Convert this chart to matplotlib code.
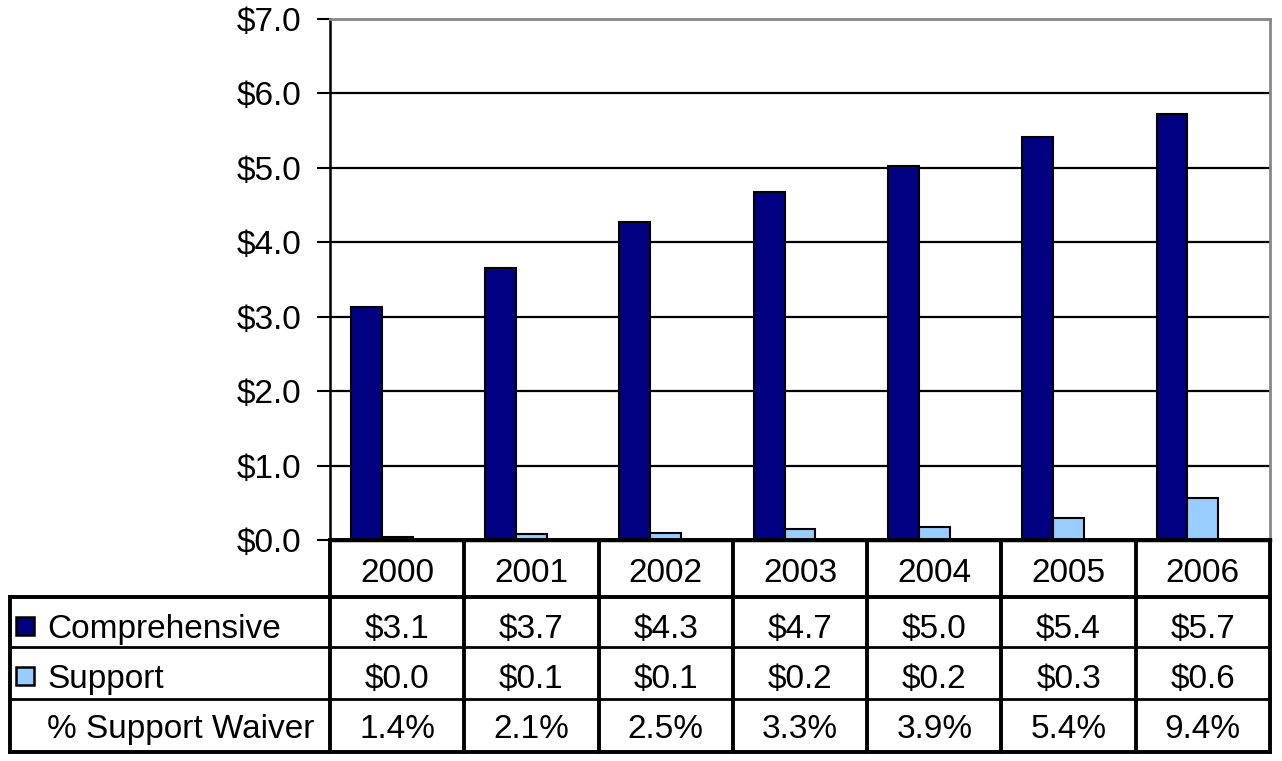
import matplotlib
matplotlib.use("Agg")
import matplotlib.pyplot as plt
import numpy as np

plt.rcParams['font.family'] = ['Liberation Sans', 'DejaVu Sans']

years = ["2000", "2001", "2002", "2003", "2004", "2005", "2006"]
comprehensive = [3.13, 3.65, 4.27, 4.68, 5.03, 5.42, 5.72]
support = [0.045, 0.077, 0.10, 0.15, 0.17, 0.30, 0.57]
comp_labels = ["$3.1", "$3.7", "$4.3", "$4.7", "$5.0", "$5.4", "$5.7"]
support_labels = ["$0.0", "$0.1", "$0.1", "$0.2", "$0.2", "$0.3", "$0.6"]
waiver_pct = ["1.4%", "2.1%", "2.5%", "3.3%", "3.9%", "5.4%", "9.4%"]
series_names = ["Comprehensive", "Support", "% Support Waiver"]
yticks = [0, 1, 2, 3, 4, 5, 6, 7]

COMP_C = "#000080"
SUP_C = "#99CCFF"
FS = 24

W, H = 1282, 761
fig = plt.figure(figsize=(W / 100, H / 100), dpi=100)

# plot area in pixels
L, R, T, B = 330, 1270, 19, 540
ax = fig.add_axes([L / W, (H - B) / H, (R - L) / W, (B - T) / H])
x = np.arange(len(years))
bw = 0.23
ax.bar(x - bw, comprehensive, width=bw, color=COMP_C, edgecolor="black", linewidth=1.5, zorder=3)
ax.bar(x, support, width=bw, color=SUP_C, edgecolor="black", linewidth=1.5, zorder=3)
ax.set_xlim(-0.5, len(years) - 0.5)
ax.set_ylim(0, 7)
ax.set_yticks(yticks)
ax.set_yticklabels([f"${v:.1f}" for v in yticks], fontsize=FS)
for lab in ax.get_yticklabels():
    lab.set_y(lab.get_position()[1])
ax.set_xticks([])
ax.yaxis.grid(True, color="black", linewidth=1.6, zorder=0)
ax.tick_params(axis="y", length=9.5, width=1.5, pad=11, direction="out")
ax.spines["left"].set_linewidth(1.8)
ax.spines["bottom"].set_linewidth(2.5)
ax.spines["top"].set_color("#888888")
ax.spines["top"].set_linewidth(2)
ax.spines["right"].set_color("#888888")
ax.spines["right"].set_linewidth(2)
ax.set_axisbelow(True)

# data table
TL, TB = 10, 753
tax = fig.add_axes([TL / W, (H - TB) / H, (R - TL) / W, (TB - B) / H])
colw = (R - L) / len(years)
xl = -0.5 - (L - TL) / colw
tax.set_xlim(xl, len(years) - 0.5)
tax.set_ylim(TB, B)
tax.axis("off")
rows = [540, 597, 647, 699, 752]
lw_out = 2.8
lw_in = 2.0
tax.plot([-0.5, len(years) - 0.5], [rows[0], rows[0]], color="black", lw=lw_out, clip_on=False)
for k, r in enumerate(rows[1:]):
    lw = lw_out if k in (0, 3) else lw_in
    tax.plot([xl, len(years) - 0.5], [r, r], color="black", lw=lw, clip_on=False, solid_capstyle="projecting")
for i in range(len(years) + 1):
    tax.plot([i - 0.5, i - 0.5], [rows[0], rows[-1]], color="black", lw=lw_out, clip_on=False)
tax.plot([xl, xl], [rows[1], rows[-1]], color="black", lw=lw_out, clip_on=False)

baselines = [582, 638, 688, 738]
for i, yr in enumerate(years):
    tax.text(i, baselines[0], yr, ha="center", va="baseline", fontsize=FS)
    tax.text(i, baselines[1], comp_labels[i], ha="center", va="baseline", fontsize=FS)
    tax.text(i, baselines[2], support_labels[i], ha="center", va="baseline", fontsize=FS)
    tax.text(i, baselines[3], waiver_pct[i], ha="center", va="baseline", fontsize=FS)

label_x = xl + (47 - TL) / colw
sw_x = xl + (16 - TL) / colw
sw_w = 18 / colw
swatch_colors = [COMP_C, SUP_C, None]
for name, bl, c in zip(series_names, baselines[1:], swatch_colors):
    tax.text(label_x, bl, name, ha="left", va="baseline", fontsize=FS)
    if c is not None:
        tax.add_patch(plt.Rectangle((sw_x, bl - 21), sw_w, 18, facecolor=c,
                                    edgecolor="black", linewidth=1.8, clip_on=False))

fig.savefig("out.png", dpi=100, facecolor="white")
